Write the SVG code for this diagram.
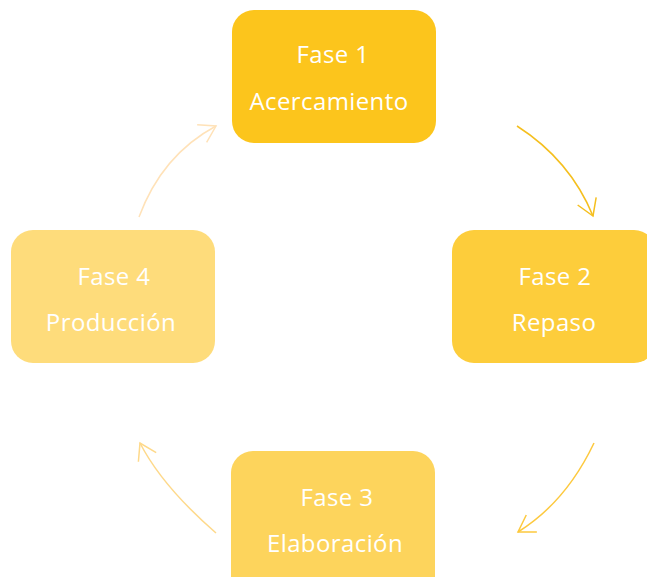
<svg xmlns="http://www.w3.org/2000/svg" width="647" height="577" viewBox="0 0 647 577">
<style>
.lbl{font-family:"Open Sans","Liberation Sans",sans-serif;font-size:24px;fill:#ffffff;text-anchor:middle;letter-spacing:0.4px}
.conn{fill:none;stroke-width:1.5}
</style>
<defs>
<marker id="m1" markerUnits="userSpaceOnUse" markerWidth="40" markerHeight="40" viewBox="-20 -20 40 40" refX="0" refY="0" orient="auto"><path d="M-16,-10 L0,0 L-16,10" fill="none" stroke="#f5bf1e" stroke-width="1.5"/></marker>
<marker id="m2" markerUnits="userSpaceOnUse" markerWidth="40" markerHeight="40" viewBox="-20 -20 40 40" refX="0" refY="0" orient="auto"><path d="M-16,-10 L0,0 L-16,10" fill="none" stroke="#fdc93e" stroke-width="1.5"/></marker>
<marker id="m3" markerUnits="userSpaceOnUse" markerWidth="40" markerHeight="40" viewBox="-20 -20 40 40" refX="0" refY="0" orient="auto"><path d="M-16,-10 L0,0 L-16,10" fill="none" stroke="#fed98a" stroke-width="1.5"/></marker>
<marker id="m4" markerUnits="userSpaceOnUse" markerWidth="40" markerHeight="40" viewBox="-20 -20 40 40" refX="0" refY="0" orient="auto"><path d="M-16,-10 L0,0 L-16,10" fill="none" stroke="#ffe2b8" stroke-width="1.5"/></marker>
</defs>
<rect width="647" height="577" fill="#ffffff"/>
<g id="connectors">
<path class="conn" d="M517,126 Q570,160 593,216" stroke="#f5bf1e" marker-end="url(#m1)"/>
<path class="conn" d="M594,443 Q566,502 518,532" stroke="#fdc93e" marker-end="url(#m2)"/>
<path class="conn" d="M216,533 Q162,486 140,443" stroke="#fed98a" marker-end="url(#m3)"/>
<path class="conn" d="M139,217 Q162,155 216,126" stroke="#ffe2b8" marker-end="url(#m4)"/>
</g>
<g id="fase1">
<rect x="232" y="10" width="204" height="133" rx="22" fill="#fcc51c"/>
<text class="lbl" x="333" y="63">Fase 1</text>
<text class="lbl" x="329" y="110">Acercamiento</text>
</g>
<g id="fase2">
<rect x="452" y="230" width="204" height="133" rx="22" fill="#fdcd3b"/>
<text class="lbl" x="555" y="285">Fase 2</text>
<text class="lbl" x="554" y="331">Repaso</text>
</g>
<g id="fase3">
<rect x="231" y="451" width="204" height="150" rx="22" fill="#fdd45c"/>
<text class="lbl" x="337" y="506">Fase 3</text>
<text class="lbl" x="335" y="552">Elaboración</text>
</g>
<g id="fase4">
<rect x="11" y="230" width="204" height="133" rx="22" fill="#fedc7b"/>
<text class="lbl" x="114" y="285">Fase 4</text>
<text class="lbl" x="111" y="331">Producción</text>
</g>
</svg>
